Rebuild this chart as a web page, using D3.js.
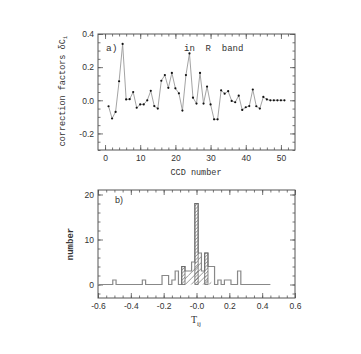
<!DOCTYPE html>
<html>
<head>
<meta charset="utf-8">
<script src="https://cdn.jsdelivr.net/npm/d3@7"></script>
<style>
  body { margin: 0; background: #fff; }
  text { fill: #333; }
</style>
</head>
<body>
<div id="chart"></div>
<script>
// panel a) correction factors per CCD
var ccdNumbers = d3.range(1, 52);
var corrFactors = [
  -0.036, -0.110, -0.070, 0.115, 0.340, 0.005, 0.007, 0.050, -0.045, -0.025,
  -0.025, 0.000, 0.057, -0.035, -0.050, 0.118, 0.152, 0.075, 0.165, 0.072,
  0.042, -0.062, 0.152, 0.283, 0.016, -0.020, 0.165, -0.020, 0.083, -0.025,
  -0.115, -0.115, 0.060, 0.040, 0.055, -0.004, -0.012, 0.028, -0.058, -0.042,
  -0.035, 0.065, -0.036, -0.050, 0.020, 0.005, 0.000, 0.000, 0.000, 0.000, 0.000
];
var aXTicks = [0, 10, 20, 30, 40, 50];
var aYTicks = [-0.2, 0.0, 0.2, 0.4];
var aYLabels = ["-0.2", "0.0", "0.2", "0.4"];

// panel b) histogram of T_ij (bin centres, width 0.02)
var binWidth = 0.02;
var outlineRange = [-0.6, 0.45];
var outlineCenters = [-0.50, -0.32, -0.20, -0.18, -0.14, -0.12, -0.08, -0.06, -0.04, -0.02,
  0.00, 0.02, 0.04, 0.06, 0.08, 0.10, 0.14, 0.18, 0.20, 0.26];
var outlineCounts = [1, 1, 2, 2, 1, 3, 4, 3, 3, 5, 18, 7, 3, 7, 4, 4, 1, 1, 1, 3];
var denseCenters = [-0.08, 0.00, 0.06];
var denseCounts = [4, 18, 7];
var sparseCenters = [-0.06, -0.04, -0.02, 0.00, 0.02, 0.04, 0.06, 0.08];
var sparseCounts = [2, 3, 4, 5, 7, 3, 2, 1];
var bXTicks = [-0.6, -0.4, -0.2, 0.0, 0.2, 0.4, 0.6];
var bXLabels = ["-0.6", "-0.4", "-0.2", "-0.0", "0.2", "0.4", "0.6"];
var bYTicks = [0, 10, 20];

var svg = d3.select('#chart').append('svg')
  .attr('width', 361)
  .attr('height', 354);

svg.append('rect').attr('width', 361).attr('height', 354).attr('fill', '#fff');

var defs = svg.append('defs');
function hatch(id, gap) {
  var p = defs.append('pattern')
    .attr('id', id)
    .attr('patternUnits', 'userSpaceOnUse')
    .attr('width', gap).attr('height', gap)
    .attr('patternTransform', 'rotate(45)');
  p.append('line')
    .attr('x1', 0).attr('y1', 0).attr('x2', 0).attr('y2', gap)
    .attr('stroke', '#222').attr('stroke-width', 0.7);
}
hatch('dense', 2.4);
hatch('sparse', 4.2);

var left = 98, right = 295;
var tickFont = 'Liberation Sans, Arial, sans-serif';
var titleFont = 'Liberation Mono, DejaVu Sans Mono, monospace';

// draws frame with inward ticks on all four sides
function frame(x, y, xMajor, xMinor, yMajor, yMinor, xLabels, yLabels) {
  var g = svg.append('g');
  var y0 = y.range()[0], y1 = y.range()[1];
  var x0 = x.range()[0], x1 = x.range()[1];

  function axisPair(axisFn, pos, vals, size, labels) {
    var ax = axisFn.tickValues(vals).tickSize(size).tickSizeOuter(0)
      .tickFormat(labels ? function(d, i) { return labels[i]; } : '');
    var a = g.append('g').attr('transform', pos).call(ax);
    a.select('.domain').remove();
    a.selectAll('line').attr('stroke', '#555').attr('stroke-width', 0.8);
    a.selectAll('text').attr('font-family', tickFont).attr('font-size', 8.5).attr('fill', '#333');
    return a;
  }
  var bot = axisPair(d3.axisBottom(x), 'translate(0,' + y0 + ')', xMajor, -5, xLabels);
  bot.selectAll('text').attr('y', 5);
  axisPair(d3.axisBottom(x), 'translate(0,' + y0 + ')', xMinor, -2.5, null);
  axisPair(d3.axisTop(x), 'translate(0,' + y1 + ')', xMajor, -5, null);
  axisPair(d3.axisTop(x), 'translate(0,' + y1 + ')', xMinor, -2.5, null);
  var lft = axisPair(d3.axisLeft(y), 'translate(' + x0 + ',0)', yMajor, -5, yLabels);
  lft.selectAll('text').attr('x', -4);
  axisPair(d3.axisLeft(y), 'translate(' + x0 + ',0)', yMinor, -2.5, null);
  axisPair(d3.axisRight(y), 'translate(' + x1 + ',0)', yMajor, -5, null);
  axisPair(d3.axisRight(y), 'translate(' + x1 + ',0)', yMinor, -2.5, null);

  g.append('rect')
    .attr('x', x0).attr('y', y1)
    .attr('width', x1 - x0).attr('height', y0 - y1)
    .attr('fill', 'none').attr('stroke', '#555').attr('stroke-width', 1);
}

// ---------- panel a ----------
var xa = d3.scaleLinear().domain([-2, 54]).range([left, right]);
var ya = d3.scaleLinear().domain([-0.3, 0.4]).range([150, 34]);

frame(xa, ya, aXTicks, d3.range(0, 54, 2), aYTicks, d3.range(-0.3, 0.401, 0.05),
  aXTicks.map(String), aYLabels);

var lineA = d3.line()
  .x(function(d, i) { return xa(ccdNumbers[i]); })
  .y(function(d) { return ya(d); });

svg.append('path').datum(corrFactors)
  .attr('d', lineA)
  .attr('fill', 'none').attr('stroke', '#999').attr('stroke-width', 0.9);

svg.selectAll('circle.pt').data(corrFactors)
  .enter().append('circle')
  .attr('class', 'pt')
  .attr('r', 1.1)
  .attr('fill', '#111')
  .attr('cx', function(d, i) { return xa(ccdNumbers[i]); })
  .attr('cy', function(d) { return ya(d); });

svg.append('text').attr('x', 106).attr('y', 51)
  .attr('font-family', titleFont).attr('font-size', 9.5).text('a)');
svg.append('text').attr('x', 184).attr('y', 51)
  .attr('font-family', titleFont).attr('font-size', 9)
  .style('white-space', 'pre').text('in  R  band');

svg.append('text').attr('x', 196).attr('y', 175)
  .attr('text-anchor', 'middle')
  .attr('font-family', titleFont).attr('font-size', 8.5).text('CCD number');

var ta = svg.append('text')
  .attr('transform', 'translate(65,91) rotate(-90)')
  .attr('text-anchor', 'middle')
  .attr('font-family', titleFont).attr('font-size', 8.5);
ta.append('tspan').text('correction factors \u03b4C');
ta.append('tspan').attr('font-size', 6).attr('dy', 2).text('i');

// ---------- panel b ----------
var xb = d3.scaleLinear().domain([-0.6, 0.6]).range([left, right]);
var yb = d3.scaleLinear().domain([-3, 21]).range([298, 190]);

frame(xb, yb, bXTicks, d3.range(-0.6, 0.601, 0.05), bYTicks, d3.range(-2, 21, 2),
  bXLabels, bYTicks.map(String));

function bars(centers, counts, fill) {
  svg.append('g').selectAll('rect').data(counts)
    .enter().append('rect')
    .attr('x', function(d, i) { return xb(centers[i] - binWidth / 2); })
    .attr('width', function(d, i) { return xb(centers[i] + binWidth / 2) - xb(centers[i] - binWidth / 2); })
    .attr('y', function(d) { return yb(d); })
    .attr('height', function(d) { return yb(0) - yb(d); })
    .attr('fill', fill);
}
bars(sparseCenters, sparseCounts, 'url(#sparse)');
bars(denseCenters, denseCounts, 'url(#dense)');

// outline histogram as a step line
var steps = [[outlineRange[0], 0]];
outlineCenters.forEach(function(c, i) {
  var a = c - binWidth / 2, b = c + binWidth / 2;
  var prev = steps[steps.length - 1];
  if (Math.abs(prev[0] - a) > 1e-6) { steps.push([a, 0]); }
  steps.push([a, outlineCounts[i]]);
  steps.push([b, outlineCounts[i]]);
  var next = outlineCenters[i + 1];
  if (next === undefined || Math.abs(next - binWidth / 2 - b) > 1e-6) {
    steps.push([b, 0]);
  }
});
steps.push([outlineRange[1], 0]);

var stepLine = d3.line()
  .x(function(d) { return xb(d[0]); })
  .y(function(d) { return yb(d[1]); });

svg.append('path').datum(steps)
  .attr('d', stepLine)
  .attr('fill', 'none').attr('stroke', '#888').attr('stroke-width', 1.2);

// dense bars get a thin outline
svg.append('g').selectAll('rect').data(denseCounts)
  .enter().append('rect')
  .attr('x', function(d, i) { return xb(denseCenters[i] - binWidth / 2); })
  .attr('width', function(d, i) { return xb(denseCenters[i] + binWidth / 2) - xb(denseCenters[i] - binWidth / 2); })
  .attr('y', function(d) { return yb(d); })
  .attr('height', function(d) { return yb(0) - yb(d); })
  .attr('fill', 'none').attr('stroke', '#666').attr('stroke-width', 0.8);

svg.append('text').attr('x', 115).attr('y', 203)
  .attr('font-family', tickFont).attr('font-size', 9).text('b)');

var tb = svg.append('text').attr('x', 196).attr('y', 323)
  .attr('text-anchor', 'middle')
  .attr('font-family', 'Liberation Serif, serif').attr('font-size', 10);
tb.append('tspan').text('T');
tb.append('tspan').attr('font-size', 7).attr('dy', 2.5).text('ij');

svg.append('text')
  .attr('transform', 'translate(73,244) rotate(-90)')
  .attr('text-anchor', 'middle')
  .attr('font-family', titleFont).attr('font-size', 9).attr('font-weight', 'bold')
  .text('number');
</script>
</body>
</html>
